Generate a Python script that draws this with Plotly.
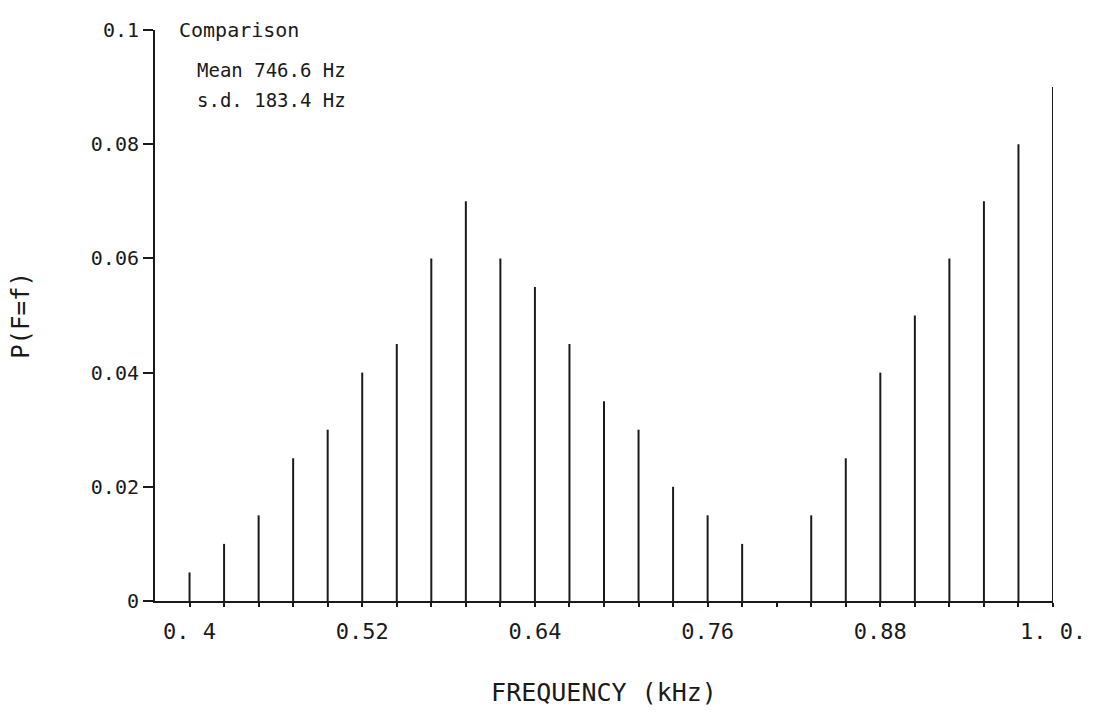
import plotly.graph_objects as go

freq_khz = [0.400, 0.424, 0.448, 0.472, 0.496, 0.520, 0.544, 0.568, 0.592, 0.616,
            0.640, 0.664, 0.688, 0.712, 0.736, 0.760, 0.784, 0.808, 0.832, 0.856,
            0.880, 0.904, 0.928, 0.952, 0.976, 1.000]
prob = [0.005, 0.010, 0.015, 0.025, 0.030, 0.040, 0.045, 0.060, 0.070, 0.060,
        0.055, 0.045, 0.035, 0.030, 0.020, 0.015, 0.010, 0.000, 0.015, 0.025,
        0.040, 0.050, 0.060, 0.070, 0.080, 0.090]

x_tick_labels = {0.400: "0. 4", 0.520: "0.52", 0.640: "0.64", 0.760: "0.76",
                 0.880: "0.88", 1.000: "1. 0."}
y_tick_vals = [0, 0.02, 0.04, 0.06, 0.08, 0.1]
y_tick_text = ["0", "0.02", "0.04", "0.06", "0.08", "0.1"]

title_text = "Comparison"
stats_text = ["Mean 746.6 Hz", "s.d. 183.4 Hz"]

FONT = "DejaVu Sans Mono"

xs, ys = [], []
for f, p in zip(freq_khz, prob):
    if p > 0:
        xs += [f, f, None]
        ys += [0, p, None]

fig = go.Figure()
fig.add_trace(go.Scatter(x=xs, y=ys, mode="lines",
                         line=dict(color="#1a1a1a", width=2),
                         hoverinfo="skip", showlegend=False))

fig.update_layout(
    width=1098, height=720,
    margin=dict(l=155, r=43, t=30, b=119),
    paper_bgcolor="white", plot_bgcolor="white",
    font=dict(family=FONT, color="#1a1a1a", size=20),
    showlegend=False,
    xaxis=dict(
        range=[0.376, 1.0], showgrid=False, zeroline=False,
        showline=True, linecolor="#1a1a1a", linewidth=2,
        tickmode="array", tickvals=freq_khz,
        ticktext=[x_tick_labels.get(round(f, 3), "") for f in freq_khz],
        ticks="outside", ticklen=4, tickwidth=2, tickcolor="#1a1a1a",
        tickfont=dict(family=FONT, size=22), ticklabelstandoff=6,
        title=dict(text="FREQUENCY (kHz)", font=dict(family=FONT, size=25), standoff=40),
    ),
    yaxis=dict(
        range=[0, 0.1], showgrid=False, zeroline=False,
        showline=True, linecolor="#1a1a1a", linewidth=2,
        tickmode="array", tickvals=y_tick_vals, ticktext=y_tick_text,
        ticks="outside", ticklen=10, tickwidth=2, tickcolor="#1a1a1a",
        tickfont=dict(family=FONT, size=20), ticklabelstandoff=0,
        title=dict(text="P(F=f)", font=dict(family=FONT, size=24), standoff=54),
    ),
)

fig.add_annotation(xref="paper", yref="paper", x=0.025, y=1.0, xanchor="left", yanchor="middle",
                   text=title_text, showarrow=False, font=dict(family=FONT, size=20))
fig.add_annotation(xref="paper", yref="paper", x=0.045, y=0.93, xanchor="left", yanchor="middle",
                   text=stats_text[0], showarrow=False, font=dict(family=FONT, size=19))
fig.add_annotation(xref="paper", yref="paper", x=0.045, y=0.878, xanchor="left", yanchor="middle",
                   text=stats_text[1], showarrow=False, font=dict(family=FONT, size=19))

fig.write_html("out.html")
